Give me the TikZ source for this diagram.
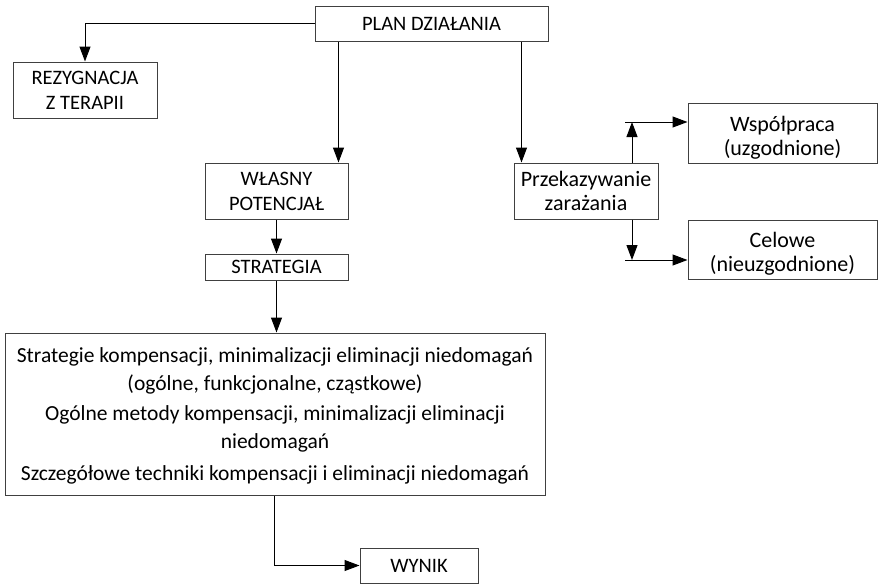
\documentclass[tikz,border=0pt]{standalone}
\usepackage{fontspec}
\setmainfont{Carlito}
\usetikzlibrary{arrows.meta,calc}
\begin{document}
\begin{tikzpicture}[x=1pt,y=-1pt,
  box/.style={draw=black!75,line width=1pt,fill=white,inner sep=0pt,
    align=center,font=\fontsize{21}{25}\selectfont},
  capsbox/.style={box,font=\fontsize{20.5}{25}\selectfont},
  textbox/.style={box,font=\fontsize{22}{24}\selectfont},
  arr/.style={line width=1pt,-{Triangle[length=15pt,width=11pt]}}]
\useasboundingbox (0,0) rectangle (879,584);
% boxes
\node[capsbox,minimum width=233,minimum height=35] (plan) at (431.5,23.5) {PLAN DZIAŁANIA};
\node[capsbox,minimum width=144,minimum height=56] (rez) at (85,90) {REZYGNACJA\\Z TERAPII};
\node[capsbox,minimum width=143,minimum height=56] (wlasny) at (276.5,191) {WŁASNY\\POTENCJAŁ};
\node[capsbox,minimum width=143,minimum height=26] (strat) at (276.5,267) {STRATEGIA};
\node[box,minimum width=540,minimum height=162,font=\fontsize{21.5}{27.5}\selectfont] (big) at (275,414)
  {\rule{0pt}{19pt}Strategie kompensacji, minimalizacji eliminacji niedomagań\\
   (ogólne, funkcjonalne, cząstkowe)\\[3pt]
   Ogólne metody kompensacji, minimalizacji eliminacji\\
   niedomagań\\[5pt]
   Szczegółowe techniki kompensacji i eliminacji niedomagań};
\node[capsbox,minimum width=118,minimum height=35] (wynik) at (419,565.5) {WYNIK};
\node[textbox,minimum width=144,minimum height=56] (przek) at (586,191) {Przekazywanie\\zarażania};
\node[textbox,minimum width=189,minimum height=60] (wsp) at (782.5,133) {\rule{0pt}{25pt}Współpraca\\(uzgodnione)};
\node[textbox,minimum width=189,minimum height=59] (cel) at (782.5,249.5) {\rule{0pt}{23pt}Celowe\\(nieuzgodnione)};
% branch points beside the transmission box
\coordinate (up) at (632,122);
\coordinate (dn) at (632,260);
% connectors
\draw[arr] (plan.west) -| (rez.north);
\draw[arr] ([xshift=-10]wlasny.north east |- plan.south) -- ([xshift=-10]wlasny.north east);
\draw[arr] ([xshift=8]przek.north west |- plan.south) -- ([xshift=8]przek.north west);
\draw[arr] (wlasny.south) -- (strat.north);
\draw[arr] (strat.south) -- (strat.south |- big.north);
\draw[arr] ([xshift=-1]big.south) |- (wynik.west);
\draw[arr] (przek.north -| up) -- (up);
\draw[arr] ([xshift=-7]up) -- (up -| wsp.west);
\draw[arr] (przek.south -| dn) -- (dn);
\draw[arr] ([xshift=-7]dn) -- (dn -| cel.west);
\end{tikzpicture}
\end{document}
